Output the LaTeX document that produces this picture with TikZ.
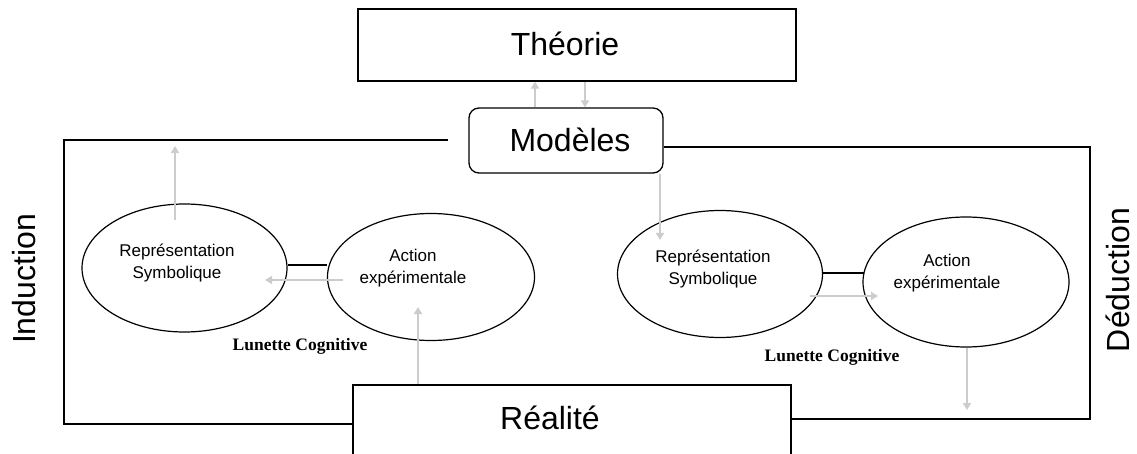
\documentclass[tikz,border=0pt]{standalone}
\usepackage{fontspec}
\setmainfont{Liberation Sans}
\newfontfamily\lunfont{Liberation Serif}
\usetikzlibrary{shapes.geometric,arrows.meta}
\tikzset{
  frame/.style={draw=black, line width=1.3pt},
  box/.style={draw=black, line width=1.3pt, rectangle, inner sep=0pt},
  oval/.style={draw=black, line width=1.2pt, ellipse, inner sep=0pt},
  garrow/.style={draw=black!20, line width=2.6pt, -{Triangle[width=8pt,length=7pt]}},
  big/.style={font=\fontsize{32}{38}\selectfont, inner sep=0pt},
  small/.style={font=\fontsize{17}{22}\selectfont, align=center, inner sep=0pt},
  lun/.style={font=\lunfont\bfseries\fontsize{17.5}{20}\selectfont, inner sep=0pt, anchor=base},
}
\begin{document}
\begin{tikzpicture}[x=1pt,y=-1pt]
\useasboundingbox (0,0) rectangle (1137,454);
\fill[white] (0,0) rectangle (1137,454);

% boxes
\node[box, minimum width=438pt, minimum height=72pt] (theo) at (577,45) {};
\node[box, rounded corners=10pt, minimum width=194pt, minimum height=65pt] (mod) at (566,140.5) {};
\node[box, minimum width=438pt, minimum height=140pt] (rea) at (572,455) {};

% box texts
\node[big, anchor=base] (theot) at (565,56) {Théorie};
\node[big, anchor=base] (modt) at (570,152) {Modèles};
\node[big, anchor=base] (reat) at (550,429) {Réalité};

% side labels
\node[big, rotate=90] (ind) at (24.5,279) {Induction};
\node[big, rotate=90] (ded) at (1118,280) {Déduction};

% frames
\coordinate (lf) at (448,140);
\draw[frame] (lf) -- (64,140) -- (64,424) -- (rea.west |- 0,424);
\draw[frame] (mod.east |- 0,147) -- (1090,147) -- (1090,419) -- (rea.east |- 0,419);

% ellipses
\node[oval, minimum width=205pt, minimum height=128pt] (e1) at (184.5,268) {};
\node[oval, minimum width=207pt, minimum height=127pt] (e2) at (431,277) {};
\node[oval, minimum width=205pt, minimum height=127pt] (e3) at (720,274) {};
\node[oval, minimum width=206pt, minimum height=130pt] (e4) at (966,282) {};

% ellipse texts
\node[small] (e1t) at (177,263) {Représentation\\Symbolique};
\node[small] (e2t) at (413,268) {Action\\expérimentale};
\node[small] (e3t) at (713,269.5) {Représentation\\Symbolique};
\node[small] (e4t) at (947,273.5) {Action\\expérimentale};

% bridges
\draw[line width=1.2pt] (e1.east |- 0,265) -- (e2.west |- 0,265);
\draw[line width=1.2pt] (e3.east |- 0,273) -- ([xshift=1.5pt]e4.west |- 0,273);

% lunette labels
\node[lun] (lun1) at (300,350) {Lunette Cognitive};
\node[lun] (lun2) at (832,361) {Lunette Cognitive};

% gray arrows
\draw[garrow] (mod.north -| 535,0) -- (theo.south -| 535,0);
\draw[garrow] (theo.south -| 585,0) -- (mod.north -| 585,0);

\coordinate (a1s) at (175,220);
\coordinate (a1e) at (175,146);
\draw[garrow] (a1s) -- (a1e);

\coordinate (a2s) at (343,280);
\coordinate (a2e) at (265,280);
\draw[garrow] (a2s) -- (a2e);

\coordinate (a3e) at (418,307);
\draw[garrow] (rea.north -| 418,0) -- (a3e);

\coordinate (a4e) at (660,240);
\draw[garrow] (mod.south -| 660,0) -- (a4e);

\coordinate (a5s) at (810,296);
\coordinate (a5e) at (878,296);
\draw[garrow] (a5s) -- (a5e);

\coordinate (a6e) at (967,410);
\draw[garrow] (e4.south -| 967,0) -- (a6e);
\end{tikzpicture}
\end{document}
